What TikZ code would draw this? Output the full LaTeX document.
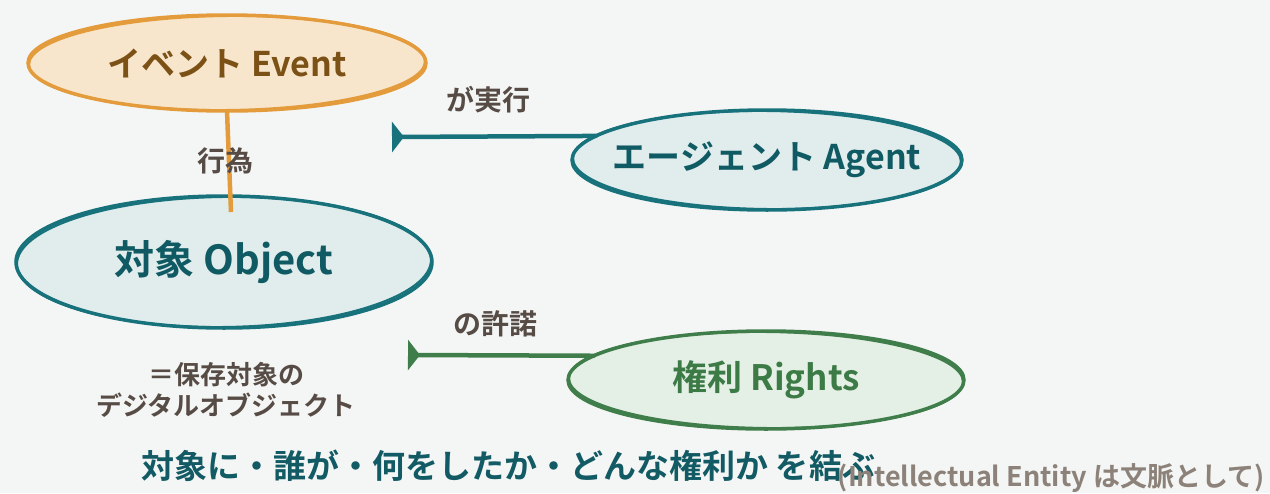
\documentclass[tikz,border=0pt]{standalone}
\usepackage{fontspec}
\setmainfont{Noto Sans CJK JP}[BoldFont={Noto Sans CJK JP Bold}]
\usetikzlibrary{shapes.geometric,arrows.meta}
\definecolor{bg}{HTML}{F4F6F5}
\definecolor{evfill}{HTML}{F8E6CC}
\definecolor{evline}{HTML}{E39B3B}
\definecolor{evtext}{HTML}{7B5116}
\definecolor{tlfill}{HTML}{E1EDEC}
\definecolor{tlline}{HTML}{17727C}
\definecolor{tltext}{HTML}{0F5A63}
\definecolor{grfill}{HTML}{E4F0E5}
\definecolor{grline}{HTML}{3F7E4B}
\definecolor{grtext}{HTML}{3C7A46}
\definecolor{lbl}{HTML}{574C45}
\definecolor{btm}{HTML}{125A64}
\definecolor{paren}{HTML}{8C8279}
\newcommand{\zw}[1]{\makebox[0pt]{#1}}
\tikzset{
  blob/.style={ellipse, inner sep=0pt, font=\bfseries\fontsize{34}{40}\selectfont},
  lbltext/.style={text=lbl, font=\bfseries\fontsize{28}{34}\selectfont, align=center},
  sketch/.style={line width=3.5pt},
  sketchthin/.style={line width=2pt},
  conn/.style={line width=4.5pt, line cap=round},
  endtip/.style={-{Triangle[reversed,width=30pt,length=12pt]}},
}
\begin{document}
\begin{tikzpicture}[x=1pt,y=-1pt]
\fill[bg] (0,0) rectangle (1270,493);
\useasboundingbox (0,0) rectangle (1270,493);

% Event
\node[blob, fill=evfill, minimum width=398pt, minimum height=96pt, text=evtext] (ev) at (227,63) {\zw{イベント Event}};
\draw[sketch, evline] (ev.center) ellipse [x radius=199pt, y radius=48pt];
\draw[sketchthin, evline, rotate around={0.6:(ev.center)}] (ev.center) ellipse [x radius=198pt, y radius=47pt];

% Agent
\node[blob, fill=tlfill, minimum width=390pt, minimum height=100pt, text=tltext] (ag) at (767,160) {\zw{エージェント Agent}};
\draw[sketch, tlline] (ag.center) ellipse [x radius=195pt, y radius=50pt];
\draw[sketchthin, tlline, rotate around={-0.6:(ag.center)}] (ag.center) ellipse [x radius=194pt, y radius=49pt];

% Object
\node[blob, fill=tlfill, minimum width=416pt, minimum height=132pt, text=tltext, font=\bfseries\fontsize{40}{46}\selectfont] (ob) at (224,262) {\zw{対象 Object}};
\draw[sketch, tlline] (ob.center) ellipse [x radius=208pt, y radius=66pt];
\draw[sketchthin, tlline, rotate around={0.7:(ob.center)}] (ob.center) ellipse [x radius=207pt, y radius=65pt];

% Rights
\node[blob, fill=grfill, minimum width=396pt, minimum height=98pt, text=grtext, font=\bfseries\fontsize{35}{40}\selectfont] (rt) at (766,380) {\zw{権利 Rights}};
\draw[sketch, grline] (rt.center) ellipse [x radius=198pt, y radius=49pt];
\draw[sketchthin, grline, rotate around={-0.6:(rt.center)}] (rt.center) ellipse [x radius=197pt, y radius=48pt];

% Event -> Object
\coordinate (obtop) at (231,212);
\draw[conn, evline, line cap=butt] (ev.south) -- (obtop);
\node[lbltext] (l1) at (225,161) {行為};

% Agent connector
\coordinate (agend) at (392,137);
\draw[conn, tlline, endtip] (ag.172) -- (agend);
\node[lbltext] (l2) at (488,100) {が実行};

% Rights connector
\coordinate (rtend) at (408,355);
\draw[conn, grline, endtip] (rt.172) -- (rtend);
\node[lbltext] (l3) at (495,324) {の許諾};

% Object description
\node[lbltext, font=\bfseries\fontsize{26}{31}\selectfont] (desc) at (226,390) {＝保存対象の\\デジタルオブジェクト};

% Bottom
\node[text=btm, font=\bfseries\fontsize{33}{38}\selectfont, anchor=west] (b1) at (138,466) {対象に・誰が・何をしたか・どんな権利か を結ぶ};
\node[text=paren, font=\bfseries\fontsize{27}{32}\selectfont, anchor=east] (b2) at (1268,478) {(Intellectual Entity は文脈として)};
\end{tikzpicture}
\end{document}
